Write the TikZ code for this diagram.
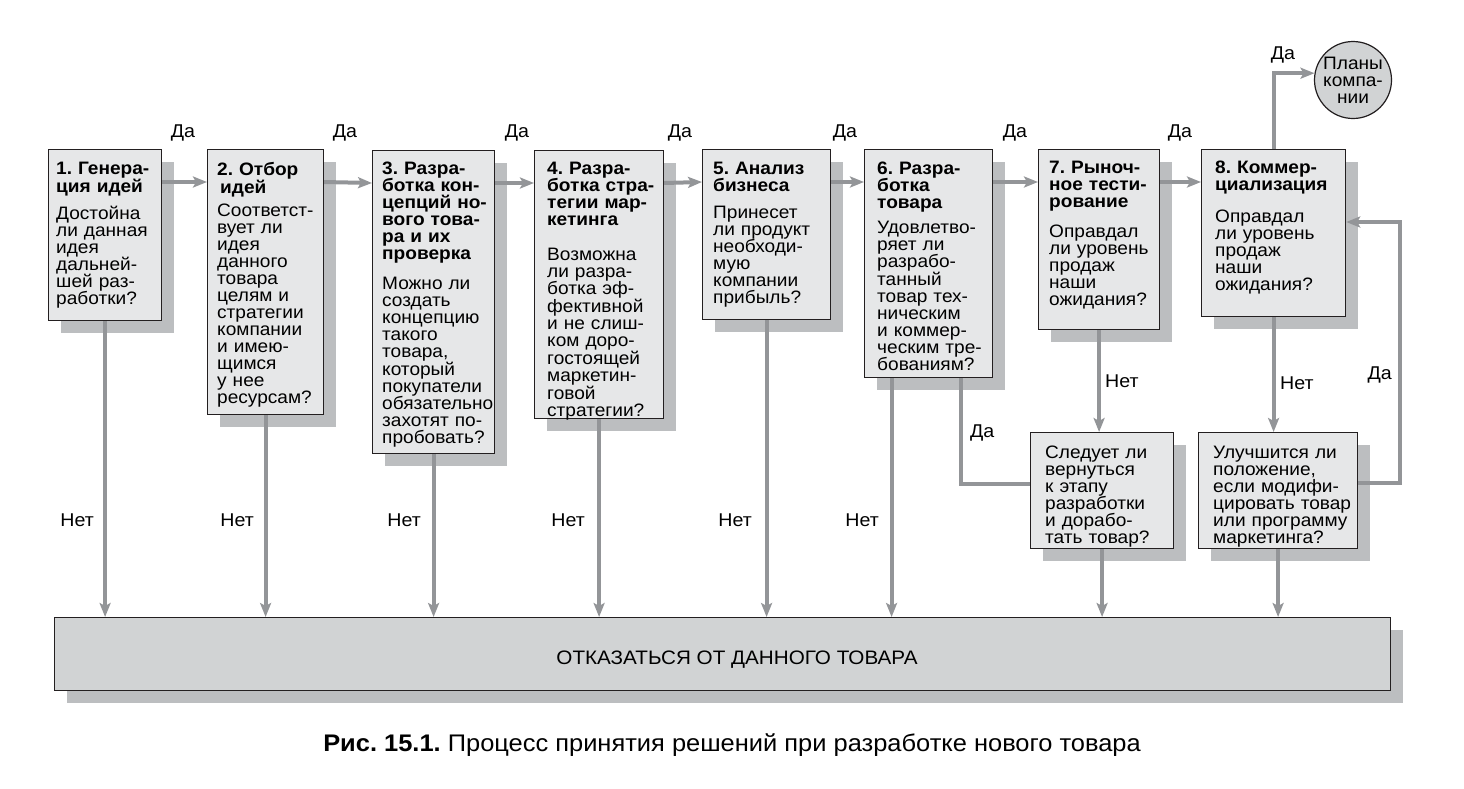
\documentclass[tikz,border=0pt]{standalone}
\usepackage{fontspec}
\setmainfont{Liberation Sans}[FakeStretch=1.06]
\usetikzlibrary{arrows.meta,shadows}
\definecolor{stageFillGray}{HTML}{E6E7E8}
\definecolor{stageShadowGray}{HTML}{BCBEC0}
\definecolor{rejectFillGray}{HTML}{D1D3D4}
\definecolor{flowArrowGray}{HTML}{939598}
\definecolor{frameBlack}{HTML}{231F20}
\newcommand{\stagefont}{\fontsize{18}{17}\selectfont\frenchspacing}
\newcommand{\flowfont}{\fontsize{18.5}{18}\selectfont}
\newcommand{\rejectfont}{\fontsize{19.5}{20}\selectfont}
\newcommand{\figcapfont}{\fontsize{24}{26}\selectfont\frenchspacing}

\begin{document}
\begin{tikzpicture}[x=1pt, y=-1pt,
    stage/.style={draw=frameBlack, line width=1.2pt, fill=stageFillGray, anchor=north west, inner sep=0pt,
      drop shadow={shadow xshift=12pt, shadow yshift=-12pt, fill=stageShadowGray, opacity=1}},
    stagetext/.style={anchor=north west, inner sep=0pt, text width=160pt, align=left, font=\stagefont},
    flowlabel/.style={inner sep=0pt, font=\flowfont},
    flow/.style={draw=flowArrowGray, line width=4pt, -{Stealth[length=14pt,width=11pt,inset=3pt]}},
    flowline/.style={draw=flowArrowGray, line width=4pt}]
    \useasboundingbox (0,0) rectangle (1464,788);

    % stages
    \node[stage, minimum width=113pt, minimum height=171pt] (s1) at (48,149) {};
    \node[stage, minimum width=116pt, minimum height=265pt] (s2) at (207,149) {};
    \node[stage, minimum width=122pt, minimum height=303pt] (s3) at (372,150) {};
    \node[stage, minimum width=129pt, minimum height=268pt] (s4) at (534,150) {};
    \node[stage, minimum width=128pt, minimum height=170pt] (s5) at (702,149) {};
    \node[stage, minimum width=128pt, minimum height=228pt] (s6) at (864,149) {};
    \node[stage, minimum width=121pt, minimum height=180pt] (s7) at (1038,149) {};
    \node[stage, minimum width=144pt, minimum height=167pt] (s8) at (1201,149) {};
    \node[stage, minimum width=143pt, minimum height=116pt] (qa) at (1030,432) {};
    \node[stage, minimum width=159pt, minimum height=116pt] (qb) at (1198,432) {};
    \node[stage, fill=rejectFillGray, minimum width=1336pt, minimum height=73pt] (bar) at (54,617) {};
    \node[circle, draw=frameBlack, line width=1.2pt, fill=rejectFillGray, minimum size=77pt, inner sep=0pt,
      align=center, font=\stagefont] (plans) at (1353,80) {Планы\\компа-\\нии};

    \node[stagetext] (t1) at ([shift={(8,13)}]s1.north west)
      {\textbf{1. Генера-\\ция идей}\\[10pt]Достойна\\ли данная\\идея\\дальней-\\шей раз-\\работки?};
    \node[stagetext] (t2) at ([shift={(10,13)}]s2.north west)
      {\textbf{2. Отбор\\\hspace*{3pt}идей}\\[6pt]Соответст-\\вует ли\\идея\\данного\\товара\\целям и\\стратегии\\компании\\и имею-\\щимся\\у нее\\ресурсам?};
    \node[stagetext] (t3) at ([shift={(10,12)}]s3.north west)
      {\textbf{3. Разра-\\ботка кон-\\цепций но-\\вого това-\\ра и их\\проверка}\\[13pt]Можно ли\\создать\\концепцию\\такого\\товара,\\который\\покупатели\\обязательно\\захотят по-\\пробовать?};
    \node[stagetext] (t4) at ([shift={(13,12)}]s4.north west)
      {\textbf{4. Разра-\\ботка стра-\\тегии мар-\\кетинга}\\[18pt]Возможна\\ли разра-\\ботка эф-\\фективной\\и не слиш-\\ком доро-\\гостоящей\\маркетин-\\говой\\стратегии?};
    \node[stagetext] (t5) at ([shift={(11,13)}]s5.north west)
      {\textbf{5. Анализ\\бизнеса}\\[10pt]Принесет\\ли продукт\\необходи-\\мую\\компании\\прибыль?};
    \node[stagetext] (t6) at ([shift={(13,13)}]s6.north west)
      {\textbf{6. Разра-\\ботка\\товара}\\[8pt]Удовлетво-\\ряет ли\\разрабо-\\танный\\товар тех-\\ническим\\и коммер-\\ческим тре-\\бованиям?};
    \node[stagetext] (t7) at ([shift={(11,12)}]s7.north west)
      {\textbf{7. Рыноч-\\ное тести-\\рование}\\[13pt]Оправдал\\ли уровень\\продаж\\наши\\ожидания?};
    \node[stagetext] (t8) at ([shift={(14,12)}]s8.north west)
      {\textbf{8. Коммер-\\циализация}\\[15pt]Оправдал\\ли уровень\\продаж\\наши\\ожидания?};
    \node[stagetext] (ta) at ([shift={(15,14)}]qa.north west)
      {Следует ли\\вернуться\\к этапу\\разработки\\и дорабо-\\тать товар?};
    \node[stagetext] (tb) at ([shift={(15,14)}]qb.north west)
      {Улучшится ли\\положение,\\если модифи-\\цировать товар\\или программу\\маркетинга?};
    \node[font=\rejectfont] (rejecttext) at (737,660) {ОТКАЗАТЬСЯ ОТ ДАННОГО ТОВАРА};

    % yes: next stage
    \draw[flow] ([yshift=-33pt]s1.north east) -- ([yshift=-33pt]s2.north west);
    \draw[flow] ([yshift=-33pt]s2.north east) -- ([yshift=-33pt]s3.north west);
    \draw[flow] ([yshift=-33pt]s3.north east) -- ([yshift=-33pt]s4.north west);
    \draw[flow] ([yshift=-33pt]s4.north east) -- ([yshift=-33pt]s5.north west);
    \draw[flow] ([yshift=-33pt]s5.north east) -- ([yshift=-33pt]s6.north west);
    \draw[flow] ([yshift=-33pt]s6.north east) -- ([yshift=-33pt]s7.north west);
    \draw[flow] ([yshift=-33pt]s7.north east) -- ([yshift=-33pt]s8.north west);
    \draw[flow] (s8.north) |- (plans.170);
    \node[flowlabel] (y1) at (183,133) {Да};
    \node[flowlabel] (y2) at (345,133) {Да};
    \node[flowlabel] (y3) at (517,133) {Да};
    \node[flowlabel] (y4) at (680,133) {Да};
    \node[flowlabel] (y5) at (845,133) {Да};
    \node[flowlabel] (y6) at (1015,133) {Да};
    \node[flowlabel] (y7) at (1180,133) {Да};
    \node[flowlabel] (y8) at (1283,55) {Да};

    % no: reject
    \draw[flow] (s1.south) -- (s1.south |- bar.north);
    \draw[flow] (s2.south) -- (s2.south |- bar.north);
    \draw[flow] (s3.south) -- (s3.south |- bar.north);
    \draw[flow] (s4.south) -- (s4.south |- bar.north);
    \draw[flow] (s5.south) -- (s5.south |- bar.north);
    \draw[flow] ([xshift=-37pt]s6.south) -- ([xshift=-37pt]s6.south |- bar.north);
    \draw[flow] (s7.south) -- (s7.south |- qa.north);
    \draw[flow] (s8.south) -- (s8.south |- qb.north);
    \draw[flow] (qa.south) -- (qa.south |- bar.north);
    \draw[flow] (qb.south) -- (qb.south |- bar.north);
    \node[flowlabel, anchor=east] (n1) at (94,520) {Нет};
    \node[flowlabel, anchor=east] (n2) at (254,520) {Нет};
    \node[flowlabel, anchor=east] (n3) at (421,520) {Нет};
    \node[flowlabel, anchor=east] (n4) at (585,520) {Нет};
    \node[flowlabel, anchor=east] (n5) at (752,520) {Нет};
    \node[flowlabel, anchor=east] (n6) at (879,520) {Нет};
    \node[flowlabel, anchor=west] (n7) at (1105,381) {Нет};
    \node[flowlabel, anchor=west] (n8) at (1280,383) {Нет};

    % loops back
    \draw[flowline] ([xshift=32pt]s6.south) |- ([yshift=7pt]qa.west);
    \draw[flow] ([yshift=8pt]qb.east) -- ++(42,0) |- ([yshift=-73pt]s8.north east);
    \node[flowlabel, anchor=west] (y9) at (970,433) {Да};
    \node[flowlabel, anchor=east] (y10) at (1392,375) {Да};

    \node[font=\figcapfont] (caption) at (732,745) {\textbf{Рис. 15.1.} Процесс принятия решений при разработке нового товара};
\end{tikzpicture}
\end{document}
